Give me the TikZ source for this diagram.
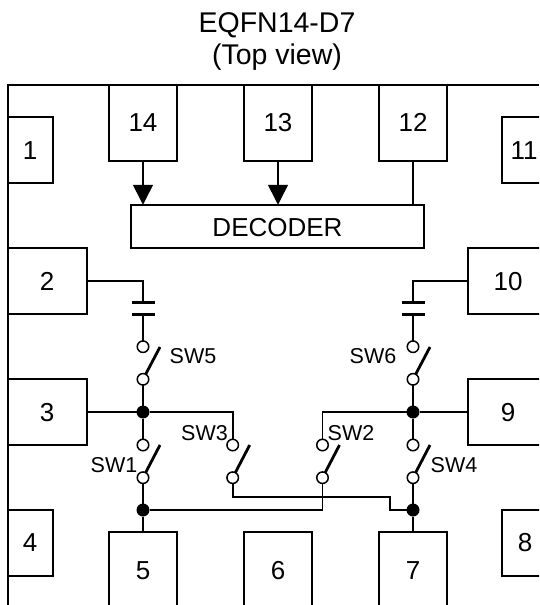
\documentclass[tikz,border=0pt]{standalone}
\usepackage{fontspec}
\setmainfont{Liberation Sans}
\usetikzlibrary{arrows.meta}
\tikzset{
  wire/.style={line width=1.6pt},
  pinbox/.style={draw,line width=1.7pt,fill=white,inner sep=0pt,outer sep=0pt,minimum width=#1},
  pinbox/.default=68pt,
  pintext/.style={anchor=base,inner sep=0pt,outer sep=0pt,font=\fontsize{26}{26}\selectfont},
  swtext/.style={anchor=base,inner sep=0pt,outer sep=0pt,font=\fontsize{21.5}{21.5}\selectfont},
  titletext/.style={anchor=base,inner sep=0pt,outer sep=0pt,font=\fontsize{28.5}{28.5}\selectfont},
  contact/.style={circle,draw,line width=1.5pt,fill=white,minimum size=11.5pt,inner sep=0pt,outer sep=0pt},
  junction/.style={circle,fill=black,minimum size=13pt,inner sep=0pt,outer sep=0pt},
  arm/.style={line width=2.8pt},
  plate/.style={line width=3pt},
  feed/.style={wire,-{Triangle[width=20pt,length=20pt]}}
}
\begin{document}
\begin{tikzpicture}[x=1pt,y=-1pt]
\path[use as bounding box,clip] (0,0) rectangle (539,605);
\fill[white] (0,0) rectangle (539,605);
% title
\node[titletext] (title1) at (277,32.7) {EQFN14-D7};
\node[titletext] (title2) at (277,64) {(Top view)};
% package outline
\coordinate (frameR) at (539,85);
\coordinate (frameB) at (8,605);
\draw[line width=1.8pt] (frameR) -| (frameB);
% pads
\node[pinbox=68pt,minimum height=76pt] (p14) at (143,123) {};
\node[pinbox=68pt,minimum height=76pt] (p13) at (278,123) {};
\node[pinbox=68pt,minimum height=76pt] (p12) at (413,123) {};
\node[pinbox=45pt,minimum height=66pt] (p1) at (30.5,150) {};
\node[pinbox=58pt,minimum height=66pt] (p11) at (531,150) {};
\node[pinbox=79pt,minimum height=66pt] (p2) at (47.5,281) {};
\node[pinbox=79pt,minimum height=66pt] (p3) at (47.5,412) {};
\node[pinbox=92pt,minimum height=66pt] (p10) at (514,281) {};
\node[pinbox=92pt,minimum height=66pt] (p9) at (514,412) {};
\node[pinbox=45pt,minimum height=66pt] (p4) at (30.5,543) {};
\node[pinbox=58pt,minimum height=66pt] (p8) at (531,543) {};
\node[pinbox=68pt,minimum height=90pt] (p5) at (143,577) {};
\node[pinbox=68pt,minimum height=90pt] (p6) at (278,577) {};
\node[pinbox=68pt,minimum height=90pt] (p7) at (413,577) {};
\node[pinbox=293pt,minimum height=43.5pt] (dec) at (277.5,226.5) {};
% pad texts
\node[pintext] (t14) at (143,131) {14};
\node[pintext] (t13) at (278,131) {13};
\node[pintext] (t12) at (413,131) {12};
\node[pintext] (t1) at (30,159) {1};
\node[pintext] (t11) at (524,159) {11};
\node[pintext] (t2) at (47,290) {2};
\node[pintext] (t3) at (47,421) {3};
\node[pintext] (t10) at (508,290) {10};
\node[pintext] (t9) at (508,421) {9};
\node[pintext] (t4) at (30,551) {4};
\node[pintext] (t8) at (525,551) {8};
\node[pintext] (t5) at (143,579) {5};
\node[pintext] (t6) at (278,579) {6};
\node[pintext] (t7) at (413,579) {7};
\node[pintext] (tdec) at (277.5,236) {DECODER};
% decoder inputs
\draw[feed] (p14.south) -- (p14.south |- dec.north);
\draw[feed] (p13.south) -- (p13.south |- dec.north);
\draw[wire] (p12.south) -- (p12.south |- dec.north);
% capacitors
\coordinate (ca1) at (143,302.7);
\coordinate (ca2) at (143,314);
\coordinate (cb1) at (413,302.7);
\coordinate (cb2) at (413,314);
% contacts and junctions
\node[contact] (s5t) at (143,346.7) {};
\node[contact] (s5b) at (143,379.3) {};
\node[contact] (s1t) at (143,445) {};
\node[contact] (s1b) at (143,477.7) {};
\node[contact] (s3t) at (232.7,445) {};
\node[contact] (s3b) at (232.7,477.7) {};
\node[contact] (s2t) at (322.5,445) {};
\node[contact] (s2b) at (322.5,477.7) {};
\node[contact] (s6t) at (413,346.7) {};
\node[contact] (s6b) at (413,379.3) {};
\node[contact] (s4t) at (413,445) {};
\node[contact] (s4b) at (413,477.7) {};
\node[junction] (jl1) at (143,412) {};
\node[junction] (jr1) at (413,412) {};
\node[junction] (jl2) at (143,510) {};
\node[junction] (jr2) at (413,510) {};
\coordinate (e5) at (160,347);
\coordinate (e1) at (160,445);
\coordinate (e3) at (249.7,445);
\coordinate (e2) at (339.5,445);
\coordinate (e6) at (430,347);
\coordinate (e4) at (430,445);
\coordinate (k1) at (232.7,497);
\coordinate (k2) at (390,497);
\coordinate (k3) at (390,510);
\coordinate (k4) at (322.5,510);
% wiring
\draw[wire] (p2.east) -| (ca1);
\draw[wire] (p10.west) -| (cb1);
\draw[plate] ([xshift=-11.5pt]ca1) -- ([xshift=11.5pt]ca1);
\draw[plate] ([xshift=-11.5pt]ca2) -- ([xshift=11.5pt]ca2);
\draw[plate] ([xshift=-11.5pt]cb1) -- ([xshift=11.5pt]cb1);
\draw[plate] ([xshift=-11.5pt]cb2) -- ([xshift=11.5pt]cb2);
\draw[wire] (ca2) -- (s5t);
\draw[wire] (cb2) -- (s6t);
\draw[wire] (s5b) -- (jl1);
\draw[wire] (s6b) -- (jr1);
\draw[wire] (p3.east) -- (jl1);
\draw[wire] (p9.west) -- (jr1);
\draw[wire] (jl1) -- (s1t);
\draw[wire] (jr1) -- (s4t);
\draw[wire] (s1b) -- (jl2);
\draw[wire] (s4b) -- (jr2);
\draw[wire] (jl2) -- (p5.north);
\draw[wire] (jr2) -- (p7.north);
\draw[wire] (jl1) -| (s3t);
\draw[wire] (jr1) -| (s2t);
\draw[wire] (s3b) -- (k1) -- (k2) -- (k3) -- (jr2);
\draw[wire] (s2b) -- (k4) -- (jl2);
% switch arms
\draw[arm] (s5b) -- (e5);
\draw[arm] (s1b) -- (e1);
\draw[arm] (s3b) -- (e3);
\draw[arm] (s2b) -- (e2);
\draw[arm] (s6b) -- (e6);
\draw[arm] (s4b) -- (e4);
% switch labels
\node[swtext] (l5) at (193,363) {SW5};
\node[swtext] (l1) at (114,472) {SW1};
\node[swtext] (l3) at (204.5,440) {SW3};
\node[swtext] (l2) at (351,440) {SW2};
\node[swtext] (l6) at (373,363) {SW6};
\node[swtext] (l4) at (454,472) {SW4};
\end{tikzpicture}
\end{document}
